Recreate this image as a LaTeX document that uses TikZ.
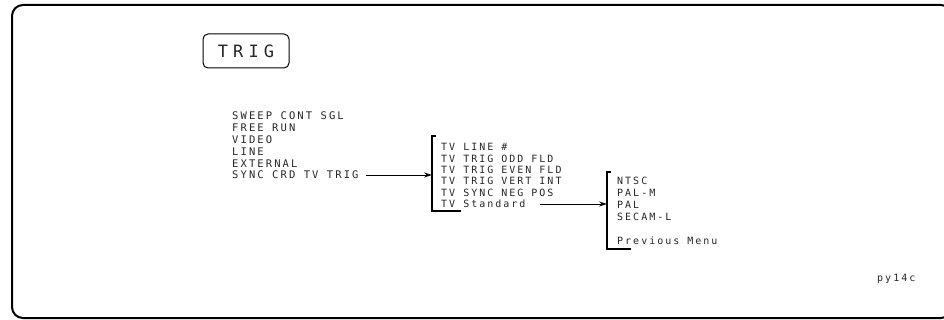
\documentclass[tikz,border=0pt]{standalone}
\usepackage{fontspec}
\newfontfamily\plotfont[LetterSpace=20]{DejaVu Sans Mono}
\newfontfamily\keyfont[LetterSpace=30]{DejaVu Sans Mono}
\usetikzlibrary{arrows.meta}
\begin{document}
\begin{tikzpicture}[x=1pt,y=-1pt,
  item/.style={anchor=west, inner sep=0pt, text height=7.3pt, text depth=0pt,
    font=\plotfont\fontsize{10}{12}\selectfont, text=black!85},
  bigitem/.style={item, text height=7.7pt, font=\plotfont\fontsize{10.5}{12}\selectfont},
  bracket/.style={line width=1.3pt},
  link/.style={line width=0.8pt, -{Stealth[length=8pt,width=5pt]}}]
\useasboundingbox (0,0) rectangle (944,320);
% outer frame
\draw[line width=2pt, rounded corners=11pt] (12,5) rectangle (952,318);
% TRIG key
\node[draw, line width=1pt, rounded corners=5pt, minimum width=86pt, minimum height=34pt,
  inner sep=0pt, text=black!85, font=\keyfont\fontsize{17}{20}\selectfont] (trig) at (246,51) {TRIG};
% left list
\node[bigitem] (sweep) at (232,116) {SWEEP CONT SGL};
\node[bigitem] (free)  at (232,127.8) {FREE RUN};
\node[bigitem] (video) at (232,139.6) {VIDEO};
\node[bigitem] (line)  at (232,151.4) {LINE};
\node[bigitem] (ext)   at (232,163.2) {EXTERNAL};
\node[bigitem] (sync)  at (232,175) {SYNC CRD TV TRIG};
% menu 1
\node[item] (m1a) at (441,147) {TV LINE \#};
\node[item] (m1b) at (441,158.4) {TV TRIG ODD FLD};
\node[item] (m1c) at (441,169.8) {TV TRIG EVEN FLD};
\node[item] (m1d) at (441,181.2) {TV TRIG VERT INT};
\node[item] (m1e) at (441,192.6) {TV SYNC NEG POS};
\node[item] (m1f) at (441,204) {TV Standard};
\coordinate (b1top) at (432,136);
\coordinate (b1bot) at (432,211);
\coordinate (b1in) at (432,175);
\draw[bracket] (436,136) -- (b1top) -- (b1bot) -- (461,211);
% menu 2
\node[item] (m2a) at (617,181) {NTSC};
\node[item] (m2b) at (617,193) {PAL-M};
\node[item] (m2c) at (617,205) {PAL};
\node[item] (m2d) at (617,217) {SECAM-L};
\node[item] (m2e) at (617,241) {Previous Menu};
\coordinate (b2top) at (607,172);
\coordinate (b2bot) at (607,249);
\coordinate (b2in) at (607,204);
\draw[bracket] (611,172) -- (b2top) -- (b2bot) -- (631,249);
% connectors
\draw[link] ([xshift=7pt]sync.east) -- (b1in);
\draw[link] ([xshift=14pt]m1f.east |- b2in) -- (b2in);
% figure id
\node[item] (id) at (877,278) {py14c};
\end{tikzpicture}
\end{document}
